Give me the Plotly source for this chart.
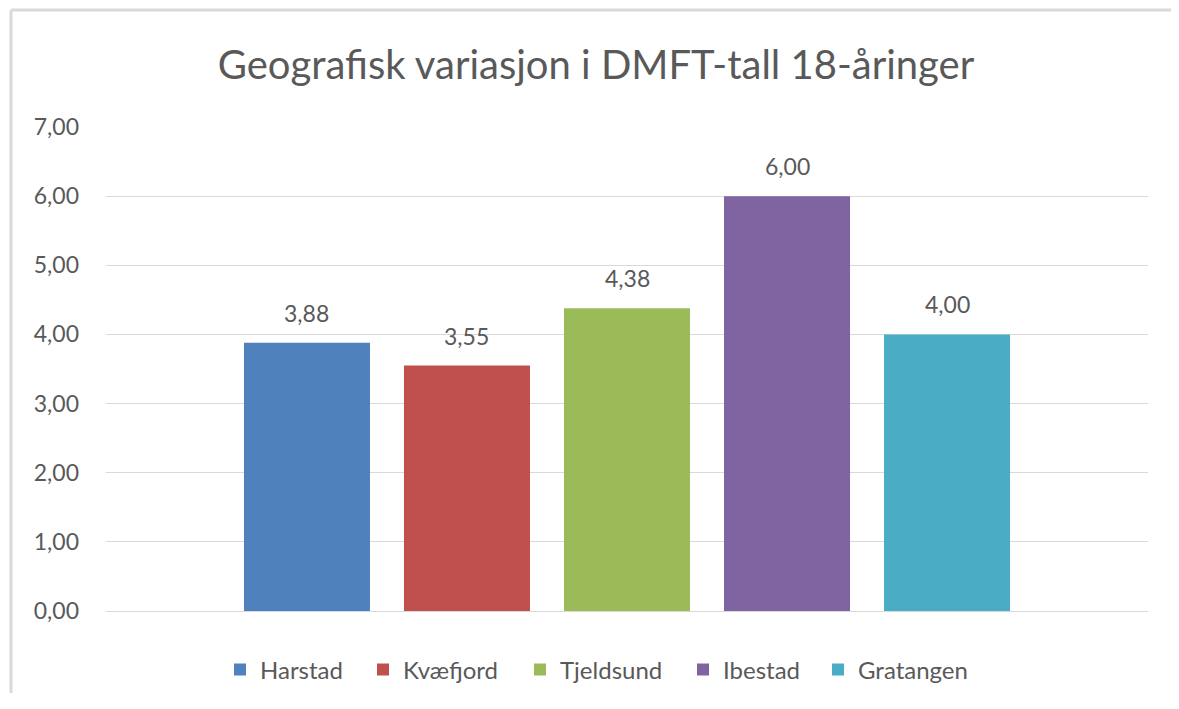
import plotly.graph_objects as go

categories = ["Harstad", "Kvæfjord", "Tjeldsund", "Ibestad", "Gratangen"]
values = [3.88, 3.55, 4.38, 6.00, 4.00]
colors = ["#4F81BD", "#C0504D", "#9BBB59", "#8064A2", "#4BACC6"]
tick_vals = [0, 1, 2, 3, 4, 5, 6, 7]
title_text = "Geografisk variasjon i DMFT-tall 18-åringer"

FONT = "Lato"
TXT = "#595959"

# figure geometry (page is offset by the 8px body margin)
W, H = 1163, 685
ML, MR, MT, MB = 98, 23, 119, 82
PW, PH = W - ML - MR, H - MT - MB

# legend symbol centres (page px) for each entry
legend_centres = [237, 380, 537, 700, 835]

fig = go.Figure()
for i, (name, v, c) in enumerate(zip(categories, values, colors)):
    lg = "legend" if i == 0 else f"legend{i + 1}"
    fig.add_trace(go.Bar(
        x=[name], y=[v], name=name, width=0.7875,
        marker=dict(color=c, line=dict(width=0)),
        legend=lg, showlegend=True,
        hoverinfo="x+y",
    ))
    fig.add_annotation(
        x=name, y=v, xref="x", yref="y",
        text=f"{v:.2f}".replace(".", ","),
        showarrow=False, yanchor="bottom", yshift=14,
        font=dict(family=FONT, size=23, color=TXT),
    )

legend_layout = {}
for i, cx in enumerate(legend_centres):
    key = "legend" if i == 0 else f"legend{i + 1}"
    fig_x = cx - 8 - 2 - 15
    legend_layout[key] = dict(
        orientation="h", x=(fig_x - ML) / PW, xanchor="left",
        yref="container", y=1 - (670 - 8) / H, yanchor="middle",
        font=dict(family=FONT, size=24, color=TXT),
        itemwidth=30, bgcolor="rgba(0,0,0,0)", borderwidth=0,
    )

fig.update_layout(
    width=W, height=H,
    separators=",.",
    paper_bgcolor="white", plot_bgcolor="white",
    margin=dict(l=ML, r=MR, t=MT, b=MB),
    barmode="overlay",
    title=dict(text=title_text, x=(596 - 8 - ML) / PW, xref="paper", xanchor="center",
               y=1 - (65 - 8) / H, yanchor="middle",
               font=dict(family=FONT, size=40, color=TXT)),
    xaxis=dict(type="category", range=[-1.256, 5.256], showticklabels=False,
               showgrid=False, zeroline=False, showline=False),
    yaxis=dict(range=[0, 7], tickvals=tick_vals, tickformat=".2f",
               showgrid=True, gridcolor="#d9d9d9", gridwidth=1,
               zeroline=True, zerolinecolor="#d9d9d9", zerolinewidth=1,
               showline=False, ticks="", ticklabelstandoff=26,
               tickfont=dict(family=FONT, size=23, color=TXT)),
    **legend_layout,
)

# frame lines (top and left) of the chart area
top_y = 1 + (MT - 2) / PH
left_x = (3 - ML) / PW
fig.add_shape(type="line", xref="paper", yref="paper",
              x0=left_x, x1=(W - ML) / PW, y0=top_y, y1=top_y,
              line=dict(color="#d9d9d9", width=3))
fig.add_shape(type="line", xref="paper", yref="paper",
              x0=left_x, x1=left_x, y0=-MB / PH, y1=top_y,
              line=dict(color="#d9d9d9", width=3))

fig.write_html("out.html", config={"displayModeBar": False})
